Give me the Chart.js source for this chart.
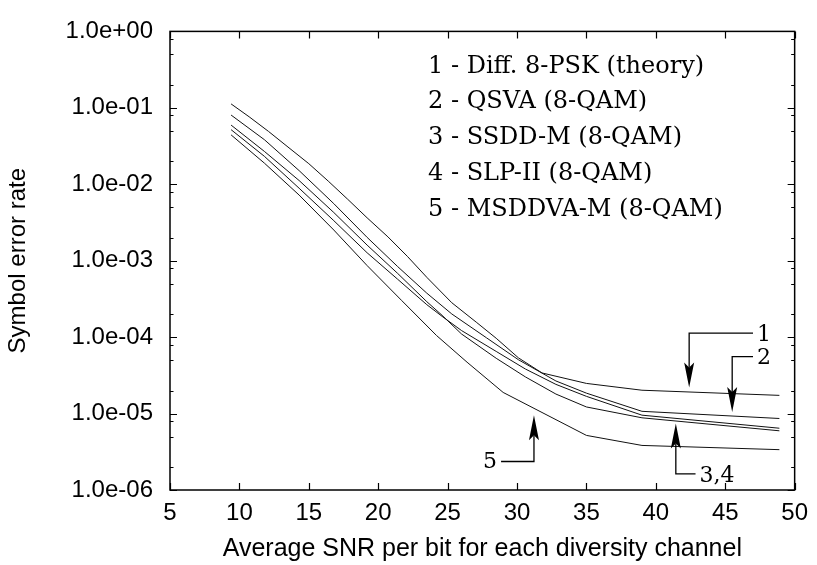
<!DOCTYPE html>
<html>
<head>
<meta charset="utf-8">
<script src="https://cdn.jsdelivr.net/npm/chart.js@4.4.0/dist/chart.umd.min.js"></script>
<style>
  html, body { margin: 0; padding: 0; background: #fff; }
  #wrap { width: 817px; height: 565px; }
</style>
</head>
<body>
<div id="wrap"><canvas id="graficoSER" width="817" height="565"></canvas></div>
<script>
// valores (SNR em dB, taxa de erro de simbolo)
var snr1 = [9.4, 10.7, 12.1, 13.5, 15.0, 16.4, 17.8, 19.2, 20.7, 22.1, 23.5, 25.3, 27.1, 28.5, 30.1, 31.8, 35, 39, 48.9];
var ser1 = [1.126e-1, 7.64e-2, 4.91e-2, 3.07e-2, 1.86e-2, 1.10e-2, 6.37e-3, 3.64e-3, 2.05e-3, 1.14e-3, 6.06e-4, 2.82e-4, 1.55e-4, 9.66e-5, 5.36e-5, 3.40e-5, 2.48e-5, 2.02e-5, 1.73e-5];

var snr2 = [9.4, 11.8, 14.3, 16.8, 19.2, 21.4, 23.5, 25.3, 27.8, 30.1, 32.8, 35, 39, 48.9];
var ser2 = [8.05e-2, 3.83e-2, 1.51e-2, 5.58e-3, 2.02e-3, 8.38e-4, 3.76e-4, 2.01e-4, 9.80e-5, 5.06e-5, 2.67e-5, 1.85e-5, 1.07e-5, 8.62e-6];

var snr3 = [9.4, 11.8, 14.3, 16.8, 19.2, 21.4, 23.5, 24.6, 26, 28.5, 30.6, 32.8, 35, 39, 48.9];
var ser3 = [5.95e-2, 2.69e-2, 1.12e-2, 4.27e-3, 1.60e-3, 6.82e-4, 2.91e-4, 1.93e-4, 1.10e-4, 5.29e-5, 3.02e-5, 1.80e-5, 1.22e-5, 8.80e-6, 5.95e-6];

var snr4 = [9.4, 11.8, 14.3, 16.8, 19.2, 21.4, 23.5, 24.6, 26, 28.5, 30.6, 32.8, 35, 39, 48.9];
var ser4 = [5.18e-2, 2.32e-2, 8.88e-3, 3.34e-3, 1.27e-3, 5.72e-4, 2.66e-4, 1.87e-4, 1.22e-4, 6.50e-5, 3.83e-5, 2.41e-5, 1.68e-5, 9.53e-6, 6.43e-6];

var snr5 = [9.4, 11.8, 14.3, 16.8, 19.2, 21.7, 24.2, 26.4, 29, 35, 39, 48.9];
var ser5 = [4.43e-2, 1.89e-2, 7.23e-3, 2.52e-3, 8.63e-4, 3.00e-4, 1.05e-4, 4.70e-5, 1.89e-5, 5.18e-6, 3.83e-6, 3.37e-6];

var xTicks = [5, 10, 15, 20, 25, 30, 35, 40, 45, 50];
var yTicks = [1e-6, 1e-5, 1e-4, 1e-3, 1e-2, 1e-1, 1];
var yMinor = [2, 5, 8];

var legenda = [
  '1 - Diff. 8-PSK (theory)',
  '2 - QSVA (8-QAM)',
  '3 - SSDD-M (8-QAM)',
  '4 - SLP-II (8-QAM)',
  '5 - MSDDVA-M (8-QAM)'
];

// setas: caminho em coordenadas dos dados, a ponta e o ultimo ponto
var setas = [
  { txt: '1', lado: 'dir', path: [[47.0, 1.125e-4], [42.4, 1.125e-4], [42.4, 2.19e-5]] },
  { txt: '2', lado: 'dir', path: [[47.0, 5.56e-5], [45.5, 5.56e-5], [45.5, 1.05e-5]] },
  { txt: '3,4', lado: 'dir', path: [[42.86, 1.63e-6], [41.44, 1.63e-6], [41.44, 7.44e-6]] },
  { txt: '5', lado: 'esq', path: [[28.85, 2.36e-6], [31.22, 2.36e-6], [31.22, 9.53e-6]] }
];

function pontos(xs, ys) {
  var out = [];
  for (var i = 0; i < xs.length; i++) out.push({ x: xs[i], y: ys[i] });
  return out;
}

function serie(xs, ys) {
  return {
    data: pontos(xs, ys),
    borderColor: '#111',
    borderWidth: 1,
    pointRadius: 0,
    tension: 0,
    fill: false
  };
}

function fmtExp(v) {
  var e = Math.round(Math.log10(v));
  var s = e < 0 ? '-' : '+';
  var n = Math.abs(e);
  return '1.0e' + s + (n < 10 ? '0' + n : '' + n);
}

var decor = {
  id: 'decor',
  afterDraw: function (chart) {
    var ctx = chart.ctx, a = chart.chartArea;
    var xs = chart.scales.x, ys = chart.scales.y;
    ctx.save();
    ctx.strokeStyle = '#000';
    ctx.lineWidth = 1.5;
    ctx.strokeRect(a.left, a.top, a.right - a.left, a.bottom - a.top);

    ctx.lineWidth = 1.2;
    ctx.beginPath();
    xTicks.forEach(function (v) {
      var p = Math.round(xs.getPixelForValue(v)) + 0.5;
      ctx.moveTo(p, a.bottom); ctx.lineTo(p, a.bottom - 7);
      ctx.moveTo(p, a.top); ctx.lineTo(p, a.top + 7);
    });
    yTicks.forEach(function (v) {
      var p = Math.round(ys.getPixelForValue(v)) + 0.5;
      ctx.moveTo(a.left, p); ctx.lineTo(a.left + 7, p);
      ctx.moveTo(a.right, p); ctx.lineTo(a.right - 7, p);
    });
    for (var k = -6; k < 0; k++) {
      yMinor.forEach(function (m) {
        var p = Math.round(ys.getPixelForValue(m * Math.pow(10, k))) + 0.5;
        ctx.moveTo(a.left, p); ctx.lineTo(a.left + 3.5, p);
        ctx.moveTo(a.right, p); ctx.lineTo(a.right - 3.5, p);
      });
    }
    ctx.stroke();

    // legenda
    ctx.fillStyle = '#000';
    ctx.font = '24px "DejaVu Serif"';
    ctx.textAlign = 'left';
    ctx.textBaseline = 'middle';
    legenda.forEach(function (t, i) {
      ctx.fillText(t, a.left + 258, a.top + 35 + i * 35.8);
    });

    // setas
    ctx.lineWidth = 1.3;
    setas.forEach(function (s) {
      var pts = s.path.map(function (q) { return [xs.getPixelForValue(q[0]), ys.getPixelForValue(q[1])]; });
      var n = pts.length;
      var tip = pts[n - 1], prev = pts[n - 2];
      var dx = tip[0] - prev[0], dy = tip[1] - prev[1];
      var len = Math.sqrt(dx * dx + dy * dy);
      dx /= len; dy /= len;
      var L = 25, W = 5;
      ctx.beginPath();
      ctx.moveTo(pts[0][0], pts[0][1]);
      for (var i = 1; i < n - 1; i++) ctx.lineTo(pts[i][0], pts[i][1]);
      ctx.lineTo(tip[0] - dx * L * 0.8, tip[1] - dy * L * 0.8);
      ctx.stroke();
      ctx.beginPath();
      ctx.moveTo(tip[0], tip[1]);
      ctx.lineTo(tip[0] - dx * L - dy * W, tip[1] - dy * L + dx * W);
      ctx.lineTo(tip[0] - dx * L * 0.8, tip[1] - dy * L * 0.8);
      ctx.lineTo(tip[0] - dx * L + dy * W, tip[1] - dy * L - dx * W);
      ctx.closePath();
      ctx.fill();

      ctx.font = '22px "DejaVu Serif"';
      ctx.textBaseline = 'middle';
      if (s.lado === 'dir') {
        ctx.textAlign = 'left';
        ctx.fillText(s.txt, pts[0][0] + 4, pts[0][1] + 2);
      } else {
        ctx.textAlign = 'right';
        ctx.fillText(s.txt, pts[0][0] - 4, pts[0][1] + 1);
      }
    });
    ctx.restore();
  }
};

var ctx = document.getElementById('graficoSER').getContext('2d');
var chart = new Chart(ctx, {
  type: 'line',
  data: {
    datasets: [
      serie(snr1, ser1),
      serie(snr2, ser2),
      serie(snr3, ser3),
      serie(snr4, ser4),
      serie(snr5, ser5)
    ]
  },
  options: {
    responsive: false,
    animation: false,
    devicePixelRatio: 1,
    layout: { padding: { top: 20, right: 15, left: 0, bottom: 0 } },
    plugins: { legend: { display: false }, tooltip: { enabled: false } },
    scales: {
      x: {
        type: 'linear',
        min: 5,
        max: 50,
        afterFit: function (s) { s.height = 75; },
        afterBuildTicks: function (s) { s.ticks = xTicks.map(function (v) { return { value: v }; }); },
        grid: { display: false, drawTicks: false },
        border: { display: false },
        ticks: {
          color: '#000',
          font: { family: '"Liberation Sans", Arial, sans-serif', size: 24 },
          padding: 9,
          autoSkip: false,
          maxRotation: 0
        },
        title: {
          display: true,
          text: 'Average SNR per bit for each diversity channel',
          color: '#000',
          font: { family: '"Liberation Sans", Arial, sans-serif', size: 25 },
          padding: { top: 0, bottom: 1 }
        }
      },
      y: {
        type: 'logarithmic',
        min: 1e-6,
        max: 1,
        afterFit: function (s) { s.width = 170; },
        afterBuildTicks: function (s) { s.ticks = yTicks.map(function (v) { return { value: v }; }); },
        grid: { display: false, drawTicks: false },
        border: { display: false },
        ticks: {
          color: '#000',
          font: { family: '"Liberation Sans", Arial, sans-serif', size: 24 },
          padding: 17,
          autoSkip: false,
          callback: function (v) { return fmtExp(v); }
        },
        title: {
          display: true,
          text: 'Symbol error rate',
          color: '#000',
          font: { family: '"Liberation Sans", Arial, sans-serif', size: 24 },
          padding: { top: 4, bottom: 0 }
        }
      }
    }
  },
  plugins: [decor]
});
</script>
</body>
</html>
